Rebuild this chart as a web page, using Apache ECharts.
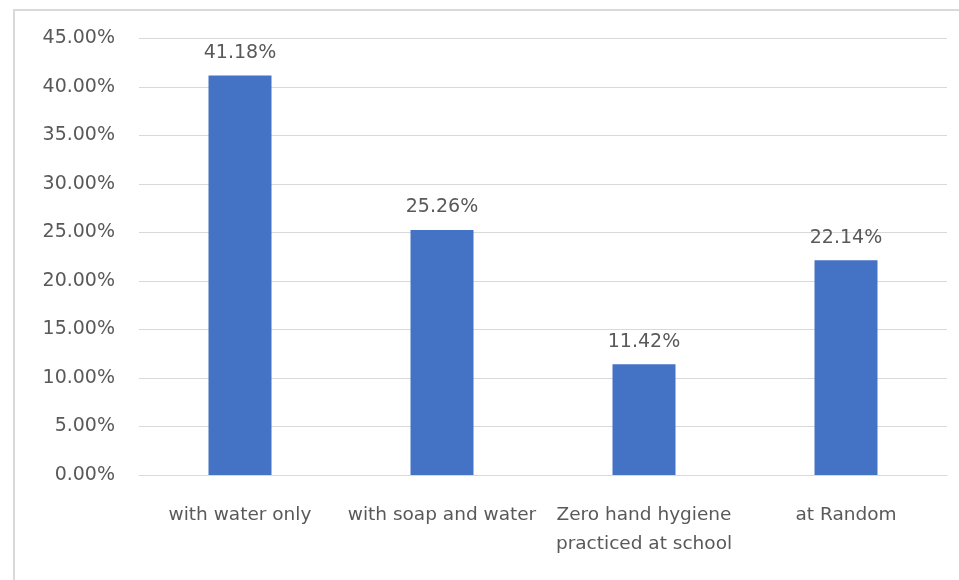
<!DOCTYPE html>
<html>
<head>
<meta charset="utf-8">
<script src="https://cdn.jsdelivr.net/npm/echarts@6/dist/echarts.min.js"></script>
<style>
  html, body { margin: 0; padding: 0; background: #ffffff; }
  #chart { width: 959px; height: 580px; }
</style>
</head>
<body>
<div id="chart"></div>
<script>
// Hand hygiene practice categories and shares (%)
const categories = [
  'with water only',
  'with soap and water',
  'Zero hand hygiene\npracticed at school',
  'at Random'
];
const shares = [41.18, 25.26, 11.42, 22.14];

const yMin = 0;
const yMax = 45;
const yStep = 5;

const textColor = '#595959';
const gridColor = '#d9d9d9';
const barColor = '#4472C4';
const fontFamily = '"DejaVu Sans", sans-serif';

const chart = echarts.init(document.getElementById('chart'));

chart.setOption({
  animation: false,
  backgroundColor: '#ffffff',
  graphic: [{
    type: 'rect',
    shape: { x: 14, y: 10, width: 960, height: 600 },
    style: { fill: 'none', stroke: gridColor, lineWidth: 2 },
    silent: true
  }],
  grid: { left: 139, right: 12, top: 38.5, bottom: 105 },
  xAxis: {
    type: 'category',
    data: categories,
    axisLine: { show: true, lineStyle: { color: gridColor, width: 1 } },
    axisTick: { show: false },
    axisLabel: {
      color: textColor,
      fontFamily: fontFamily,
      fontSize: 18.5,
      margin: 26,
      lineHeight: 29,
      interval: 0
    }
  },
  yAxis: {
    type: 'value',
    min: yMin,
    max: yMax,
    interval: yStep,
    axisLine: { show: false },
    axisTick: { show: false },
    splitLine: { lineStyle: { color: gridColor, width: 1 } },
    axisLabel: {
      color: textColor,
      fontFamily: fontFamily,
      fontSize: 19,
      margin: 24,
      formatter: v => v.toFixed(2) + '%'
    }
  },
  series: [{
    type: 'bar',
    data: shares,
    barWidth: 63,
    itemStyle: { color: barColor },
    label: {
      show: true,
      position: 'top',
      distance: 13,
      color: textColor,
      fontFamily: fontFamily,
      fontSize: 19,
      formatter: p => p.value.toFixed(2) + '%'
    }
  }]
});
</script>
</body>
</html>
